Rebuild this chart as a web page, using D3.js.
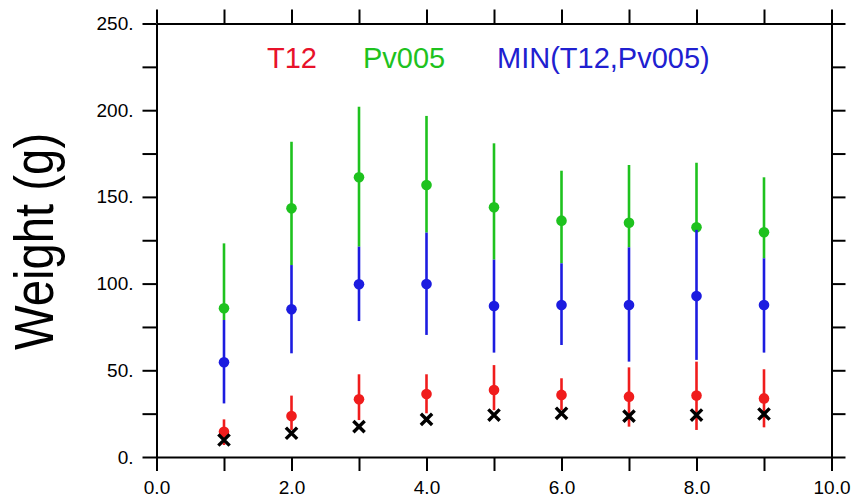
<!DOCTYPE html>
<html>
<head>
<meta charset="utf-8">
<script src="https://cdn.jsdelivr.net/npm/d3@7"></script>
<style>
  body { margin: 0; background: #fff; }
  svg { display: block; }
  .axis path, .axis line { stroke: #000; stroke-width: 2; }
  .axis text { font-family: "Liberation Sans", Arial, sans-serif; font-size: 19px; fill: #000; }
</style>
</head>
<body>
<div id="chart"></div>
<script>
// x positions (day / index)
const xs = [1, 2, 3, 4, 5, 6, 7, 8, 9];

// Pv005 (green): mean, upper and lower ends of the bar
const pvMean = [85.8, 143.4, 161.3, 156.9, 144, 136.3, 135.1, 132.5, 129.6];
const pvHigh = [123.2, 181.8, 202, 196.7, 180.9, 165.1, 168.4, 169.7, 161.3];
const pvLow  = [79, 110.7, 121.3, 129.4, 113.8, 111.7, 120.9, 131, 114.6];

// MIN(T12,Pv005) (blue)
const minMean = [54.6, 85.2, 99.6, 99.8, 87.1, 87.7, 87.7, 92.8, 87.7];
const minHigh = [79, 110.7, 121.3, 129.4, 113.8, 111.7, 120.9, 131, 114.6];
const minLow  = [30.9, 59.8, 78.4, 70.4, 60.2, 64.6, 55, 56, 60.2];

// T12 (red)
const t12Mean = [14.6, 23.6, 33.3, 36.3, 38.6, 35.8, 34.8, 35.4, 33.8];
const t12High = [21.7, 35.4, 47.7, 47.7, 53, 45.4, 51.7, 55, 50.6];
const t12Low  = [6.9, 15.6, 21.3, 25.2, 27, 27, 17.5, 15.6, 17.1];

// observed (black crosses)
const observed = [9.8, 13.7, 17.5, 21.7, 24.2, 25.2, 23.6, 24.2, 24.8];

const yTicks = [0, 25, 50, 75, 100, 125, 150, 175, 200, 225, 250];
const xTicks = [0, 1, 2, 3, 4, 5, 6, 7, 8, 9, 10];
const legendNames = ["T12", "Pv005", "MIN(T12,Pv005)"];

const colors = { red: "#f01c1c", green: "#1ec21e", blue: "#1c1ce0" };

const W = 853, H = 503;
const margin = { top: 23.5, right: 21.5, bottom: 46, left: 156.5 };
const width = W - margin.left - margin.right,
      height = H - margin.top - margin.bottom;

const svg = d3.select("#chart").append("svg")
    .attr("width", W).attr("height", H);

const g = svg.append("g")
    .attr("transform", `translate(${margin.left},${margin.top})`);

const x = d3.scaleLinear().domain([0, 10]).range([0, width]);
const y = d3.scaleLinear().domain([0, 250]).range([height, 0]);

// axes, ticks outward on all four sides
g.append("g").attr("class", "axis")
    .attr("transform", `translate(0,${height})`)
    .call(d3.axisBottom(x).tickValues(xTicks).tickSize(14).tickSizeOuter(0).tickPadding(10)
        .tickFormat(d => d % 2 === 0 ? d.toFixed(1) : ""));

g.append("g").attr("class", "axis")
    .call(d3.axisTop(x).tickValues(xTicks).tickSize(14).tickSizeOuter(0).tickFormat(""));

g.append("g").attr("class", "axis")
    .call(d3.axisLeft(y).tickValues(yTicks).tickSize(14).tickSizeOuter(0).tickPadding(9)
        .tickFormat(d => d % 50 === 0 ? d + "." : ""));

g.append("g").attr("class", "axis")
    .attr("transform", `translate(${width},0)`)
    .call(d3.axisRight(y).tickValues(yTicks).tickSize(14).tickSizeOuter(0).tickFormat(""));

// error bars + mean dots
function drawSeries(mean, low, high, color) {
    const s = g.append("g");
    s.selectAll("line")
        .data(xs)
        .enter().append("line")
        .attr("x1", d => x(d)).attr("x2", d => x(d))
        .attr("y1", (d, i) => y(low[i]))
        .attr("y2", (d, i) => y(high[i]))
        .attr("stroke", color)
        .attr("stroke-width", 2.6);
    s.selectAll("circle")
        .data(xs)
        .enter().append("circle")
        .attr("cx", d => x(d))
        .attr("cy", (d, i) => y(mean[i]))
        .attr("r", 5.3)
        .attr("fill", color);
}

drawSeries(pvMean, pvLow, pvHigh, colors.green);
drawSeries(minMean, minLow, minHigh, colors.blue);
drawSeries(t12Mean, t12Low, t12High, colors.red);

// black crosses
const cross = d3.symbol().type(d3.symbolX).size(85);
g.append("g").selectAll("path")
    .data(xs)
    .enter().append("path")
    .attr("d", cross)
    .attr("transform", (d, i) => `translate(${x(d)},${y(observed[i])})`)
    .attr("fill", "none")
    .attr("stroke", "#000")
    .attr("stroke-width", 3.4);

// legend text across the top
const legendX = [267, 363, 497];
const legendColors = ["#e8122a", "#1ec21e", "#2020d0"];
svg.append("g").selectAll("text")
    .data(legendNames)
    .enter().append("text")
    .attr("x", (d, i) => legendX[i])
    .attr("y", 68)
    .attr("fill", (d, i) => legendColors[i])
    .style("font-family", "'Liberation Sans', Arial, sans-serif")
    .style("font-size", "29px")
    .text(d => d);

// y axis title
svg.append("text")
    .attr("transform", "translate(53,241.5) rotate(-90) scale(0.86,1)")
    .attr("text-anchor", "middle")
    .style("font-family", "'Liberation Sans', Arial, sans-serif")
    .style("font-size", "55px")
    .text("Weight (g)");
</script>
</body>
</html>
